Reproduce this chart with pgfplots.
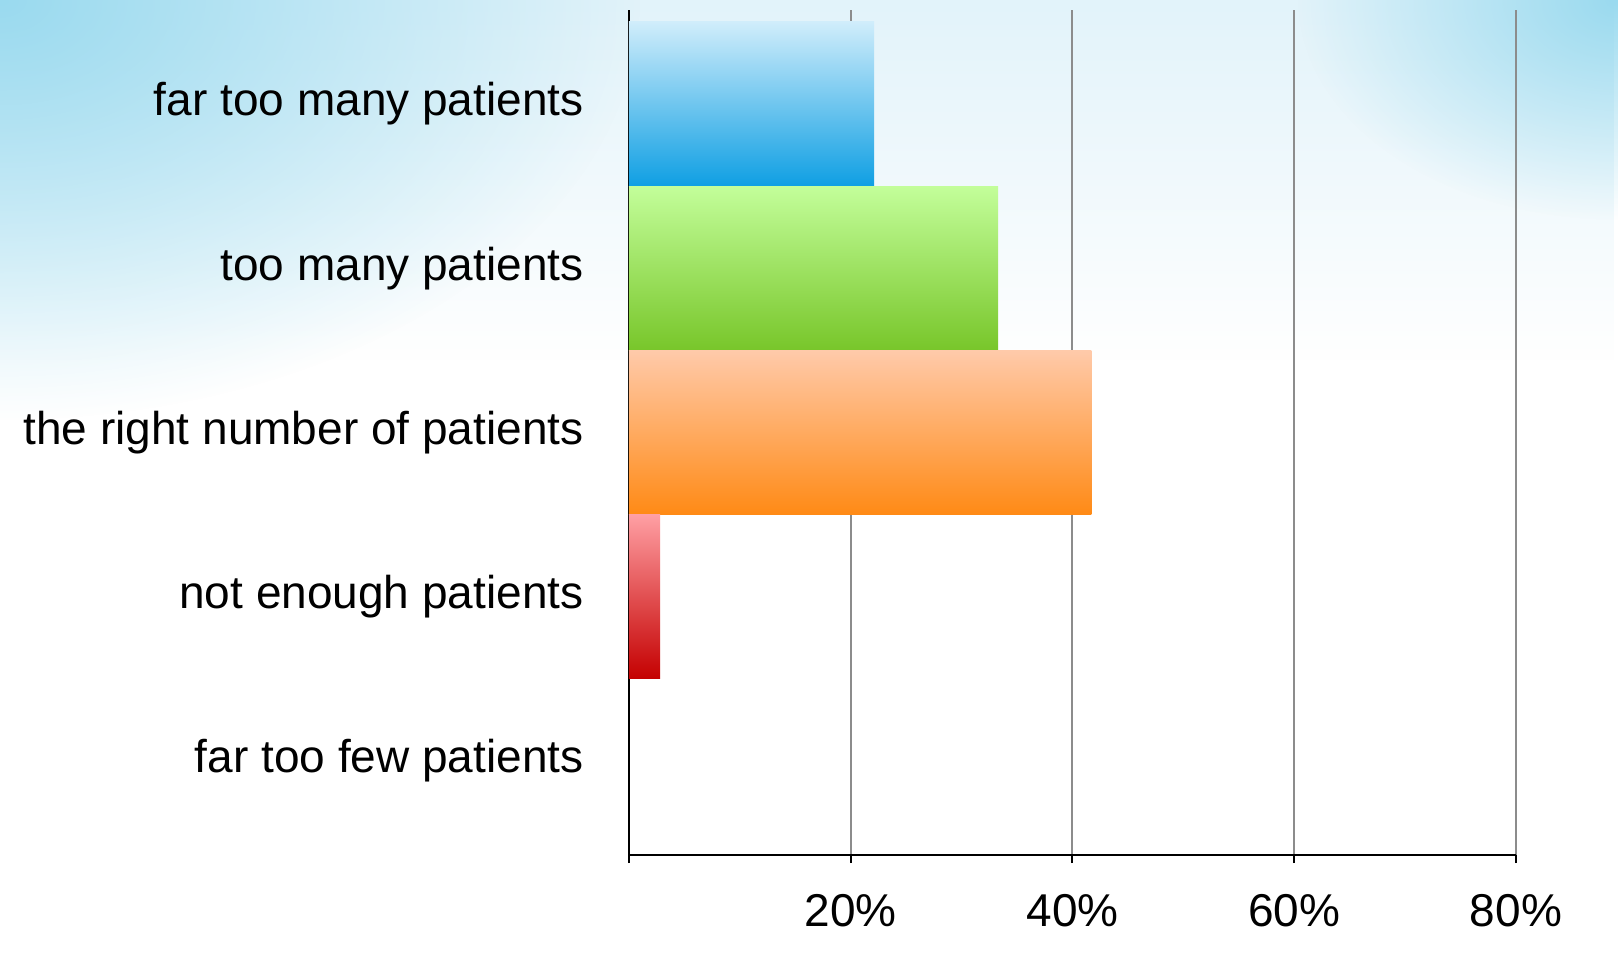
\documentclass[border=0pt]{standalone}
\usepackage{fontspec}
\setmainfont{Liberation Sans}
\usepackage{pgfplots}
\pgfplotsset{compat=1.18}
\usetikzlibrary{fadings}
\tikzfading[name=radfade, inner color=transparent!0, outer color=transparent!100]
\definecolor{bgB}{HTML}{9ADAEF}
\definecolor{bgA}{HTML}{E2F3FA}
\definecolor{gridc}{HTML}{8C8C8C}
\definecolor{b1}{HTML}{D0EDFB}
\definecolor{b2}{HTML}{4CB7EC}
\definecolor{b3}{HTML}{0F9FE3}
\definecolor{g1}{HTML}{C3FE9A}
\definecolor{g2}{HTML}{A6E66A}
\definecolor{g3}{HTML}{78C62A}
\definecolor{o1}{HTML}{FFCAAA}
\definecolor{o2}{HTML}{FFAB60}
\definecolor{o3}{HTML}{FF8A15}
\definecolor{r1}{HTML}{FF9FA3}
\definecolor{r2}{HTML}{E25558}
\definecolor{r3}{HTML}{C40000}
\begin{document}
\begin{tikzpicture}
\useasboundingbox (0,0) rectangle (809pt,480pt);
\fill[white] (0,0) rectangle (809pt,480pt);
\begin{scope}
\clip (0,0) rectangle (809pt,480pt);
\fill[bgA, path fading=south] (0,300pt) rectangle (809pt,480pt);
\fill[bgB, path fading=radfade] (0,480pt) ellipse (320pt and 210pt);
\fill[bgB, path fading=radfade] (809pt,480pt) ellipse (160pt and 110pt);
\end{scope}
\begin{axis}[
  at={(314.5pt,52.5pt)}, anchor=south west,
  scale only axis, width=443.5pt, height=422.5pt,
  xmin=0, xmax=80, ymin=-0.572, ymax=4.572,
  axis x line*=bottom, axis y line*=left,
  axis line style={black, line width=1pt},
  xtick={0,20,40,60,80},
  xticklabels={,20\%,40\%,60\%,80\%},
  xtick align=outside,
  major tick length=4pt,
  x tick style={black, line width=1pt},
  ytick={0,1,2,3,4},
  yticklabels={far too few patients, not enough patients, the right number of patients, too many patients, far too many patients},
  y tick style={draw=none},
  xmajorgrids,
  grid style={gridc, line width=1pt},
  tick label style={font=\fontsize{23}{27}\selectfont},
  /pgf/number format/assume math mode=true,
  y tick label style={xshift=-15.2pt},
  x tick label style={yshift=-12pt},
  xbar, bar width=1, bar shift=0pt,
]
\addplot[draw=none, top color=b1, middle color=b2, bottom color=b3] coordinates {(22.1,4)};
\addplot[draw=none, top color=g1, middle color=g2, bottom color=g3] coordinates {(33.3,3)};
\addplot[draw=none, top color=o1, middle color=o2, bottom color=o3] coordinates {(41.7,2)};
\addplot[draw=none, top color=r1, middle color=r2, bottom color=r3] coordinates {(2.8,1)};
\end{axis}
\end{tikzpicture}
\end{document}
